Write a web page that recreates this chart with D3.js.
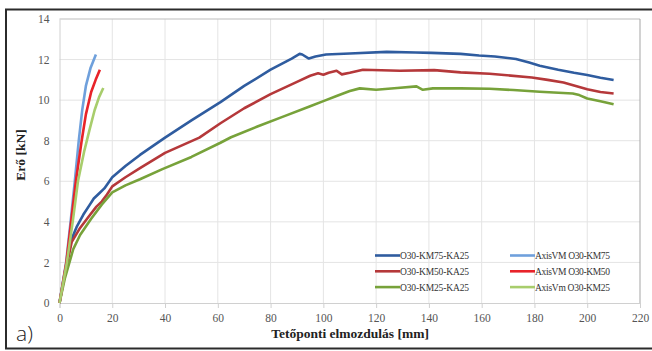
<!DOCTYPE html>
<html>
<head>
<meta charset="utf-8">
<script src="https://cdn.jsdelivr.net/npm/d3@7"></script>
<style>
  body { margin: 0; background: #fff; }
  svg { display: block; }
  .serif, .serif text { font-family: "Times New Roman", "Liberation Serif", serif; }
</style>
</head>
<body>
<svg id="viz" width="652" height="351"></svg>
<script>
// === DATA ===
const xTicks = [0, 20, 40, 60, 80, 100, 120, 140, 160, 180, 200, 220];
const yTicks = [0, 2, 4, 6, 8, 10, 12, 14];

const seriesNames = ["O30-KM75-KA25", "O30-KM50-KA25", "O30-KM25-KA25",
                     "AxisVM O30-KM75", "AxisVM O30-KM50", "AxisVm O30-KM25"];
const seriesColors = ["#2f5c9f", "#b5383a", "#77a23a", "#6fa0dc", "#e8232a", "#a8cd6c"];

// [displacement mm, force kN]
const km75 = [[0,0],[2,1.5],[4.6,3.15],[6.5,3.75],[9,4.35],[11.5,4.85],[13,5.15],[15,5.4],[17,5.65],[20,6.2],
  [25,6.75],[30.5,7.3],[40,8.15],[50,9.0],[61,9.9],[70,10.7],[80,11.5],[88,12.05],[91,12.28],[92,12.25],
  [94.5,12.05],[97,12.15],[101,12.25],[110,12.3],[124,12.38],[135,12.35],[141,12.33],[152,12.28],
  [159,12.2],[165,12.15],[173,12.03],[178,11.85],[182,11.7],[189,11.5],[195,11.35],[200,11.24],
  [205,11.1],[210,10.99]];
const km50 = [[0,0],[2,1.4],[4.6,3.0],[7.8,3.7],[11.6,4.35],[14,4.75],[16,5.0],[18,5.35],[20,5.75],[25,6.2],
  [30.5,6.65],[40,7.4],[53,8.15],[61,8.86],[70,9.6],[80,10.3],[90,10.9],[95,11.2],[98,11.32],
  [100,11.25],[102,11.35],[105,11.45],[107,11.27],[110,11.35],[115,11.5],[129,11.45],[142,11.48],
  [152,11.37],[163,11.3],[179,11.12],[185,11.0],[191,10.87],[196,10.68],[200,10.54],[205,10.4],
  [210,10.33]];
const km25 = [[0,0],[2,1.2],[5.2,2.65],[7.8,3.35],[12,4.15],[16,4.85],[20,5.45],[25,5.8],[30.5,6.1],[39,6.6],
  [50,7.2],[61,7.9],[65,8.17],[75,8.7],[85,9.2],[95,9.7],[100,9.95],[105,10.2],[110,10.45],
  [113.8,10.58],[120,10.51],[128,10.6],[135.3,10.68],[137.7,10.51],[141.5,10.58],[152,10.58],
  [163,10.56],[172,10.5],[182,10.41],[194.5,10.33],[197,10.25],[200,10.08],[205,9.95],[210,9.8]];
const axisKm75 = [[0,0],[2.5,2],[4.2,4],[5.8,6],[7.3,8],[8.6,9.5],[10,10.7],[11.8,11.6],[13.8,12.25]];
const axisKm50 = [[0,0],[2.6,2],[4.4,4],[6.2,6],[8.4,8],[10,9.3],[12,10.4],[13.7,11.0],[15.3,11.5]];
const axisKm25 = [[0,0],[2.8,2],[5,4],[7,6],[9.4,7.5],[11.3,8.5],[13.3,9.5],[15,10.15],[16.6,10.6]];

const allSeries = [km75, km50, km25, axisKm75, axisKm50, axisKm25];

// === CHART ===
const svg = d3.select("#viz");
const serif = "'Times New Roman', 'Liberation Serif', serif";

const x = d3.scaleLinear().domain([0, 220]).range([59.5, 640]);
const y = d3.scaleLinear().domain([0, 14]).range([303, 19]);

// outer frame
svg.append("rect")
  .attr("x", 6).attr("y", 9.5)
  .attr("width", 660).attr("height", 339)
  .attr("fill", "none")
  .attr("stroke", "#2b2b2b")
  .attr("stroke-width", 2);

// grid
const grid = svg.append("g");
grid.selectAll(".vg").data(xTicks.slice(1, -1)).enter().append("line")
  .attr("x1", d => x(d)).attr("x2", d => x(d))
  .attr("y1", y(14)).attr("y2", y(0))
  .attr("stroke", "#e4e4e4");
grid.selectAll(".hg").data(yTicks.slice(1, -1)).enter().append("line")
  .attr("x1", x(0)).attr("x2", x(220))
  .attr("y1", d => y(d)).attr("y2", d => y(d))
  .attr("stroke", "#e4e4e4");

// plot border
svg.append("line").attr("x1", x(0)).attr("x2", x(220)).attr("y1", y(14)).attr("y2", y(14))
  .attr("stroke", "#bdbdbd");
svg.append("line").attr("x1", x(220)).attr("x2", x(220)).attr("y1", y(14)).attr("y2", y(0))
  .attr("stroke", "#a5a5a5");

// axes
const xAxis = d3.axisBottom(x).tickValues(xTicks).tickSize(5).tickPadding(6);
const yAxis = d3.axisLeft(y).tickValues(yTicks).tickSize(0).tickPadding(10);

const gx = svg.append("g").attr("transform", `translate(0,${y(0)})`).call(xAxis);
const gy = svg.append("g").attr("transform", `translate(${x(0)},0)`).call(yAxis);
[gx, gy].forEach(g => {
  g.attr("font-family", serif).attr("font-size", 11.5).attr("class", "serif");
  g.select(".domain").attr("stroke", "#d0d0d0");
  g.selectAll(".tick line").attr("stroke", "#d0d0d0");
  g.selectAll("text").attr("fill", "#555");
});

// lines
const line = d3.line().x(d => x(d[0])).y(d => y(d[1]));
svg.append("g").selectAll("path")
  .data(allSeries)
  .enter()
  .append("path")
  .attr("fill", "none")
  .attr("stroke", (d, i) => seriesColors[i])
  .attr("stroke-width", 2.6)
  .attr("stroke-linejoin", "round")
  .attr("d", d => line(d));

// legend
const legend = svg.append("g").attr("class", "serif");
seriesNames.forEach((name, i) => {
  const col = Math.floor(i / 3), row = i % 3;
  const lx = col === 0 ? 375 : 510;
  const ly = 255.5 + row * 15.8;
  legend.append("line")
    .attr("x1", lx).attr("x2", lx + 25)
    .attr("y1", ly).attr("y2", ly)
    .attr("stroke", seriesColors[i])
    .attr("stroke-width", 2.6);
  legend.append("text")
    .attr("x", lx + 25).attr("y", ly + 3.5)
    .attr("fill", "#333")
    .attr("font-family", serif)
    .attr("font-size", 9.5)
    .attr("textLength", i < 3 ? 69 : 75)
    .text(name);
});

// axis titles
svg.append("text")
  .attr("class", "serif")
  .attr("x", 350).attr("y", 338)
  .attr("text-anchor", "middle")
  .attr("fill", "#222")
  .attr("font-family", serif)
  .attr("font-weight", "bold")
  .attr("font-size", 13.5)
  .text("Tetőponti elmozdulás [mm]");

svg.append("text")
  .attr("class", "serif")
  .attr("transform", "translate(25,155) rotate(-90)")
  .attr("text-anchor", "middle")
  .attr("fill", "#222")
  .attr("font-family", serif)
  .attr("font-weight", "bold")
  .attr("font-size", 13.5)
  .text("Erő [kN]");

svg.append("text")
  .attr("x", 16).attr("y", 341)
  .attr("fill", "#222")
  .attr("font-family", "Open Sans")
  .attr("font-weight", 300)
  .attr("font-size", 21)
  .text("a)");
</script>
</body>
</html>
